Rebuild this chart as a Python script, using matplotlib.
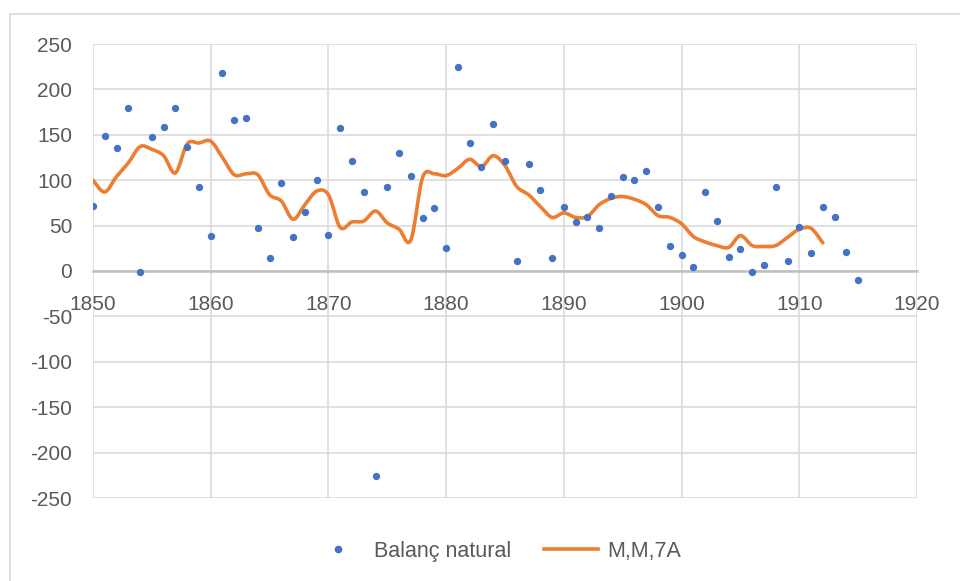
###############################################################################
#   Balanç natural + mitjana mòbil de 7 anys
###############################################################################
import matplotlib
matplotlib.use('Agg')
import matplotlib.pyplot as plt
from matplotlib.path import Path
from matplotlib.patches import PathPatch, Rectangle
from matplotlib.lines import Line2D
import numpy as np

# --- data --------------------------------------------------------------------
years = list(range(1850, 1916))
balanc = [72, 149, 135, 180, -1, 148, 159, 179, 137, 92,
          38, 218, 166, 169, 47, 14, 97, 37, 65, 100,
          40, 158, 121, 87, -226, 93, 130, 105, 58, 69,
          25, 225, 141, 115, 162, 121, 11, 118, 89, 14,
          70, 54, 59, 47, 83, 104, 100, 110, 70, 27,
          18, 4, 87, 55, 15, 24, -1, 7, 93, 11,
          48, 20, 70, 60, 21, -10]

mm_years = list(range(1850, 1913))
mm7 = [100, 87, 104, 119, 137, 134, 127, 108, 140, 141,
       143, 125, 106, 107, 106, 84, 77, 57, 73, 88,
       84, 48, 54, 55, 66, 53, 46, 34, 103, 107,
       105, 113, 123, 115, 127, 116, 93, 84, 71, 59,
       64, 59, 60, 73, 80, 82, 79, 73, 61, 59,
       52, 38, 32, 28, 26, 39, 28, 27, 28, 37,
       46, 47, 31]

x_ticks = [1850, 1860, 1870, 1880, 1890, 1900, 1910, 1920]
y_ticks = [-250, -200, -150, -100, -50, 0, 50, 100, 150, 200, 250]

BLUE = '#4472C4'
ORANGE = '#ED7D31'
GRID = '#D9D9D9'
TXT = '#595959'

plt.rcParams['font.family'] = ['Liberation Sans', 'DejaVu Sans']
plt.rcParams['axes.unicode_minus'] = False


def smooth_path(xs, ys):
    # Excel style smoothed line: cubic bezier through every point
    pts = np.column_stack([xs, ys]).astype(float)
    verts = [pts[0]]
    codes = [Path.MOVETO]
    n = len(pts)
    for i in range(n - 1):
        p0 = pts[max(i - 1, 0)]
        p1 = pts[i]
        p2 = pts[i + 1]
        p3 = pts[min(i + 2, n - 1)]
        c1 = p1 + (p2 - p0) / 6.0
        c2 = p2 - (p3 - p1) / 6.0
        verts += [c1, c2, p2]
        codes += [Path.CURVE4] * 3
    return Path(verts, codes)


fig = plt.figure(figsize=(9.6, 5.81), dpi=100)
ax = fig.add_axes([93 / 960, 1 - 498 / 581, (917 - 93) / 960, (498 - 44) / 581])

# chart area border
fig.patches.append(Rectangle((10 / 960, -0.1), 1.2, 1 - 14 / 581 + 0.1,
                             transform=fig.transFigure, fill=False,
                             edgecolor=GRID, linewidth=1.2))

ax.scatter(years, balanc, s=28, color=BLUE, zorder=4, linewidths=0)
ax.add_patch(PathPatch(smooth_path(mm_years, mm7), fill=False,
                       edgecolor=ORANGE, linewidth=2.6, zorder=3,
                       capstyle='round', joinstyle='round'))

ax.set_xlim(1850, 1920)
ax.set_ylim(-250, 250)
ax.set_xticks(x_ticks)
ax.set_yticks(y_ticks)
ax.grid(True, color=GRID, linewidth=1.1)
ax.set_axisbelow(True)

for s in ['top', 'right', 'left']:
    ax.spines[s].set_visible(False)
ax.spines['bottom'].set_position(('data', 0))
ax.spines['bottom'].set_color('#BFBFBF')
ax.spines['bottom'].set_linewidth(1.8)
ax.spines['bottom'].set_zorder(2)

ax.tick_params(axis='both', length=0, labelsize=15, labelcolor=TXT)
ax.tick_params(axis='x', pad=17)
ax.tick_params(axis='y', pad=15)

handles = [Line2D([], [], marker='o', linestyle='none', color=BLUE,
                  markersize=5.5, markeredgewidth=0),
           Line2D([], [], color=ORANGE, linewidth=2.6)]
fig.legend(handles, ['Balanç natural', 'M,M,7A'], loc='center',
           bbox_to_anchor=(496 / 960, 1 - 551 / 581), ncol=2, frameon=False,
           fontsize=15.5, labelcolor=TXT, handlelength=2.5, columnspacing=1.5,
           handletextpad=0.45)

fig.savefig('out.png', dpi=100)
